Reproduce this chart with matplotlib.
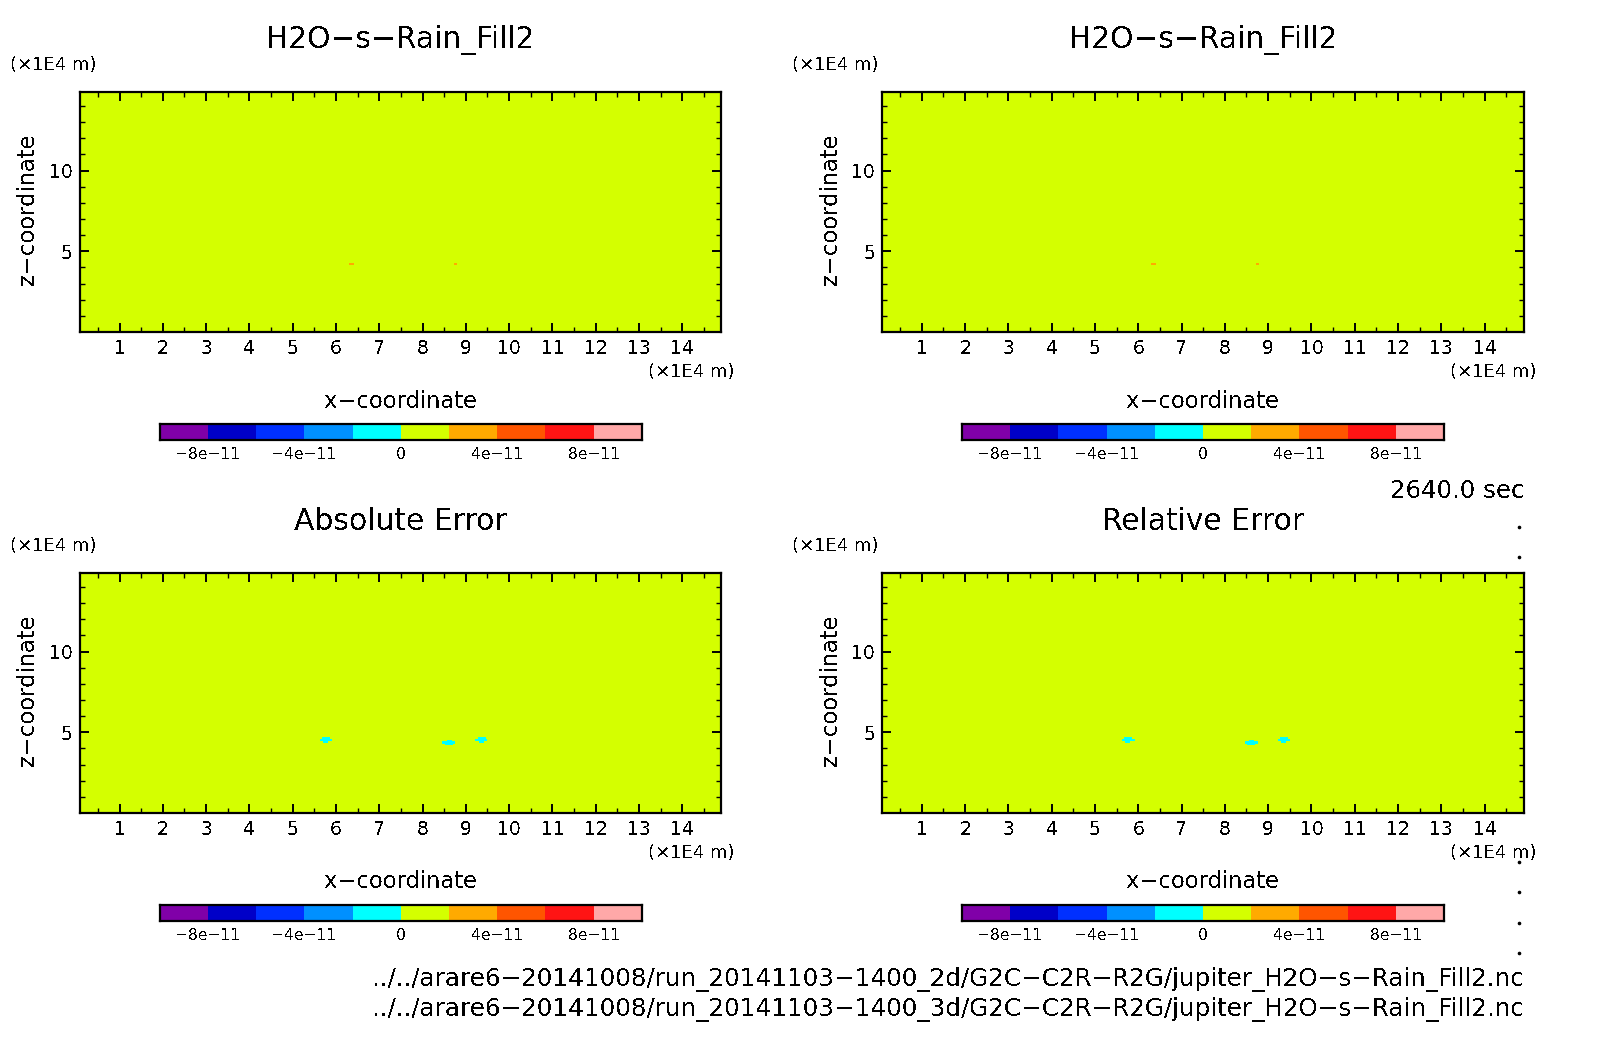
import matplotlib
matplotlib.use('Agg')
import matplotlib.pyplot as plt
import numpy as np
from matplotlib.colors import ListedColormap, BoundaryNorm

# colour levels and shading
levels = [-1e-10, -8e-11, -6e-11, -4e-11, -2e-11, 0, 2e-11, 4e-11, 6e-11, 8e-11, 1e-10]
colors = ['#8000A8', '#0000C8', '#0030FF', '#0090FF', '#00FFFF',
          '#D4FF00', '#FFAA00', '#FF5500', '#FF1414', '#FFA8A8']
cbar_ticks = [-8e-11, -4e-11, 0, 4e-11, 8e-11]
cbar_labels = ['\u22128e\u221211', '\u22124e\u221211', '0', '4e\u221211', '8e\u221211']

# axes ranges, in 1E4 m
x_ticks = list(range(1, 15))
z_ticks = [5, 10]
x_range = (0.08, 14.9)
z_range = (0.0, 14.87)

# spots where the field differs from zero: x, z, half width (1E4 m), value
fill_x = [6.36, 8.76]
fill_z = [4.22, 4.22]
fill_w = [0.06, 0.04]
fill_v = [3e-11, 3e-11]

err_x = [5.77, 5.77, 5.77, 8.62, 8.62, 8.62, 9.37, 9.37, 9.37]
err_z = [4.62, 4.50, 4.38, 4.49, 4.37, 4.25, 4.62, 4.50, 4.38]
err_w = [0.09, 0.15, 0.06, 0.06, 0.15, 0.09, 0.09, 0.14, 0.06]
err_v = [-1e-11] * 9

titles = ['H2O\u2212s\u2212Rain_Fill2', 'H2O\u2212s\u2212Rain_Fill2', 'Absolute Error', 'Relative Error']
paths = ['../../arare6\u221220141008/run_20141103\u22121400_2d/G2C\u2212C2R\u2212R2G/jupiter_H2O\u2212s\u2212Rain_Fill2.nc',
         '../../arare6\u221220141008/run_20141103\u22121400_3d/G2C\u2212C2R\u2212R2G/jupiter_H2O\u2212s\u2212Rain_Fill2.nc']

W, H = 1604, 1054
plt.rcParams['font.family'] = 'DejaVu Sans'
plt.rcParams['text.antialiased'] = False

cmap = ListedColormap(colors)
norm = BoundaryNorm(levels, cmap.N)


def make_axes(fig, left, top, right, bottom):
    # box given in pixels from the top left of the picture
    return fig.add_axes([left / W, 1 - bottom / H, (right - left) / W, (bottom - top) / H])


def make_field(xs, zs, ws, vs):
    xe = np.arange(x_range[0], x_range[1] + 0.02, 0.02)
    ze = np.arange(z_range[0], z_range[1] + 0.02, 0.02)
    field = np.zeros((len(ze) - 1, len(xe) - 1)) + 1e-13
    xc = 0.5 * (xe[1:] + xe[:-1])
    zc = 0.5 * (ze[1:] + ze[:-1])
    for x, z, w, v in zip(xs, zs, ws, vs):
        row = np.abs(zc - z) < 0.06
        col = np.abs(xc - x) < w
        field[np.ix_(row, col)] = v
    return xe, ze, field


def draw_panel(fig, left, top, unit_left, title, xs, zs, ws, vs):
    right = left + 641.5
    bottom = top + 240
    ax = make_axes(fig, left, top, right, bottom)
    xe, ze, field = make_field(xs, zs, ws, vs)
    ax.pcolormesh(xe, ze, field, cmap=cmap, norm=norm, antialiased=False)
    ax.set_xlim(x_range)
    ax.set_ylim(z_range)
    ax.set_xticks(x_ticks)
    ax.set_xticks(np.arange(0.5, 15, 1), minor=True)
    ax.set_yticks(z_ticks)
    ax.set_yticks(np.arange(1, 15, 1), minor=True)
    ax.tick_params(which='major', direction='in', length=6.5, width=1.4, top=True, right=True,
                   labelsize=13.5, pad=5)
    ax.tick_params(which='minor', direction='in', length=3.5, width=1.0, top=True, right=True)
    for s in ax.spines.values():
        s.set_linewidth(1.6)

    over.text(left + 321, top - 52, title, fontsize=21.4, ha='center', va='center')
    over.text(unit_left, top - 27, '(\u00d71E4 m)', fontsize=13, ha='left', va='center')
    over.text(right + 13.5, bottom + 40, '(\u00d71E4 m)', fontsize=13, ha='right', va='center')
    over.text(left + 321, bottom + 69, 'x\u2212coordinate', fontsize=16.3, ha='center', va='center')
    over.text(left - 52, top + 117, 'z\u2212coordinate', fontsize=16.3, rotation=90, ha='center', va='center')

    # colour bar below the panel
    cax = make_axes(fig, left + 80, bottom + 92, left + 562, bottom + 108)
    cax.pcolormesh(levels, [0, 1], np.array(levels[:-1])[None, :] + 1e-11, cmap=cmap, norm=norm, antialiased=False)
    cax.set_yticks([])
    cax.set_xticks(cbar_ticks)
    cax.set_xticklabels(cbar_labels)
    cax.tick_params(axis='x', length=0, labelsize=11.2, pad=5)
    for s in cax.spines.values():
        s.set_linewidth(1.6)


fig = plt.figure(figsize=(W / 100, H / 100), dpi=100)
over = fig.add_axes([0, 0, 1, 1], zorder=5)
over.set_xlim(0, W)
over.set_ylim(H, 0)
over.axis('off')

draw_panel(fig, 79.7, 92, 9.5, titles[0], fill_x, fill_z, fill_w, fill_v)
draw_panel(fig, 882, 92, 792, titles[1], fill_x, fill_z, fill_w, fill_v)
draw_panel(fig, 79.7, 573, 9.5, titles[2], err_x, err_z, err_w, err_v)
draw_panel(fig, 882, 573, 792, titles[3], err_x, err_z, err_w, err_v)

over.text(1524, 491, '2640.0 sec', fontsize=17.6, ha='right', va='center')
over.text(1524, 979, paths[0], fontsize=17.7, ha='right', va='center')
over.text(1524, 1009, paths[1], fontsize=17.7, ha='right', va='center')

# stray dots along the right edge
over.plot([1519] * 6, [527, 557, 862, 892, 923, 953], ls='', marker='o', ms=1.6, color='black')

fig.savefig('out.png', dpi=100)
